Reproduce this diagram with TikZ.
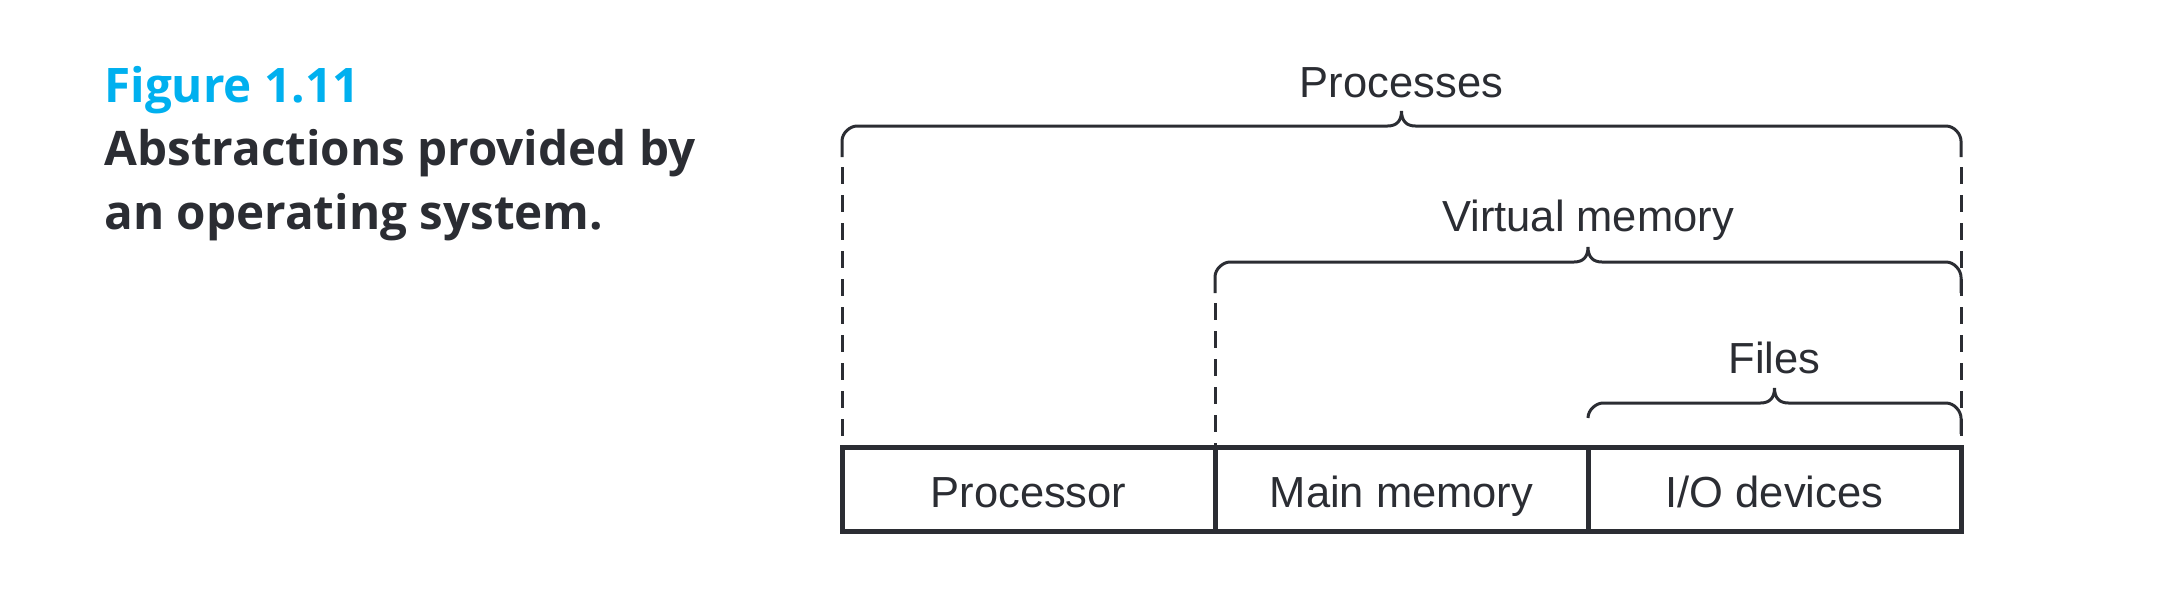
\documentclass[tikz,border=0pt]{standalone}
\usepackage{fontspec}
\setmainfont{Liberation Sans}
\newfontfamily\capfont{Open Sans}
\definecolor{ink}{HTML}{2B2D33}
\definecolor{figcyan}{HTML}{00B0EF}
\newcommand\cbrace[5]{% xl, xr, y, left end, right end
  \draw[bracel] ({#1},{#4}) -- ({#1},{#3+15})
    .. controls ({#1},{#3+6.7}) and ({#1+8.3},{#3}) .. ({#1+15},{#3})
    -- ({(#1+#2)/2-14},{#3})
    .. controls ({(#1+#2)/2-5},{#3}) and ({(#1+#2)/2},{#3-5}) .. ({(#1+#2)/2},{#3-15})
    .. controls ({(#1+#2)/2},{#3-5}) and ({(#1+#2)/2+5},{#3}) .. ({(#1+#2)/2+14},{#3})
    -- ({#2-15},{#3})
    .. controls ({#2-6.7},{#3}) and ({#2},{#3+8.3}) .. ({#2},{#3+15})
    -- ({#2},{#5});}
\begin{document}
\begin{tikzpicture}[x=0.5pt,y=-0.5pt,
  cell/.style={draw=ink, line width=2.5pt, minimum width=186.5pt, minimum height=42pt,
    inner sep=0pt, outer sep=0pt, text height=18pt, text depth=0pt,
    font=\fontsize{21.75}{26}\selectfont, text=ink},
  lab/.style={font=\fontsize{21.75}{26}\selectfont, text=ink, inner sep=0pt, anchor=base},
  bracel/.style={draw=ink, line width=1.5pt},
  dashline/.style={draw=ink, line width=1.5pt, dash pattern=on 8.5pt off 5.5pt, dash phase=9pt},
  capline/.style={font=\capfont\bfseries\fontsize{23.8}{30}\selectfont, inner sep=0pt, anchor=base west}]
\useasboundingbox (0,0) rectangle (2160,607);
% caption
\node[capline, text=figcyan] (fig) at (104,102) {Figure 1.11};
\node[capline, text=ink] (cap1) at (104,165) {Abstractions provided by};
\node[capline, text=ink] (cap2) at (104,229) {an operating system.};
% hardware cells
\node[cell] (cpu) at (1028.5,489) {Processor};
\node[cell] (mem) at (1401.5,489) {Main memory};
\node[cell] (io)  at (1774.5,489) {I/O devices};
% braces
\cbrace{842}{1961}{126}{157}{157}
\cbrace{1215}{1961}{262}{293}{293}
\cbrace{1588}{1961}{403}{418}{434}
% labels
\node[lab] (lproc) at (1401.5,97) {Processes};
\node[lab] (lvm) at (1588,231) {Virtual memory};
\node[lab] (lfiles) at (1774.5,373) {Files};
% dashed guides
\coordinate (pl) at (842,157);
\coordinate (vl) at (1215,293);
\coordinate (pr) at (1961,157);
\draw[dashline] (pl) -- (cpu.north west);
\draw[dashline] (vl) -- (mem.north west);
\draw[dashline] (pr) -- (io.north east);
\end{tikzpicture}
\end{document}
